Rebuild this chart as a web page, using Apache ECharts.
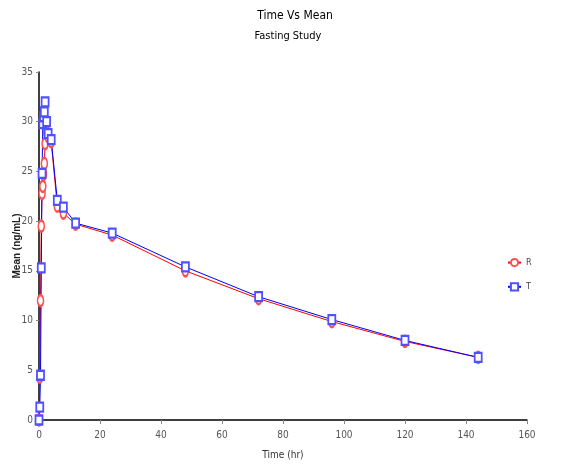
<!DOCTYPE html>
<html>
<head>
<meta charset="utf-8">
<script src="https://cdn.jsdelivr.net/npm/echarts@6/dist/echarts.min.js"></script>
<style>
html,body{margin:0;padding:0;background:#fff;}
#c{width:568px;height:472px;}
</style>
</head>
<body>
<div id="c"></div>
<script>
var times = [0, 0.25, 0.5, 0.75, 1, 1.25, 1.5, 1.75, 2, 2.5, 3, 4, 6, 8, 12, 24, 48, 72, 96, 120, 144];
var meanR = [0, 4.3, 12.0, 19.5, 22.8, 23.5, 24.7, 25.8, 27.8, 29.0, 28.5, 28.0, 21.5, 20.8, 19.7, 18.6, 15.0, 12.2, 9.9, 7.9, 6.3];
var meanT = [0, 1.3, 4.5, 15.3, 24.8, 29.8, 30.5, 31.0, 32.0, 30.0, 28.8, 28.2, 22.1, 21.4, 19.8, 18.8, 15.4, 12.4, 10.1, 8.0, 6.3];
var xTicks = [0, 20, 40, 60, 80, 100, 120, 140, 160];
var yTicks = [0, 5, 10, 15, 20, 25, 30, 35];

function pairs(ys){ return times.map(function(t,i){ return [t, ys[i]]; }); }

var narrow = "'DejaVu Sans Condensed', 'Liberation Sans Narrow', 'Liberation Sans', sans-serif";
var chart = echarts.init(document.getElementById('c'), null, {renderer:'canvas'});
chart.setOption({
  animation: false,
  backgroundColor: '#fff',
  title: [
    {text: 'Time Vs Mean', left: 290, top: 5, textAlign: 'center',
     textStyle: {fontFamily: narrow, fontSize: 12, fontWeight: 'normal', color: '#000'}},
    {text: 'Fasting Study', left: 283, top: 26, textAlign: 'center',
     textStyle: {fontFamily: narrow, fontSize: 11, fontWeight: 'normal', color: '#000'}}
  ],
  legend: {
    orient: 'vertical', left: 502, top: 253, itemGap: 15,
    itemWidth: 13, itemHeight: 9,
    itemStyle: {borderWidth: 1},
    textStyle: {fontFamily: narrow, fontSize: 9, color: '#444'},
    data: ['R', 'T']
  },
  grid: {left: 39, right: 41, top: 72, bottom: 52, outerBoundsMode: 'none', containLabel: false},
  xAxis: {
    type: 'value', min: 0, max: 160, interval: 20,
    name: 'Time (hr)', nameLocation: 'middle', nameGap: 30, nameMoveOverlap: false,
    nameTextStyle: {fontFamily: narrow, fontSize: 10, color: '#333'},
    axisLine: {lineStyle: {color: '#000', width: 1.5}},
    axisTick: {show: true, length: 4, lineStyle: {color: '#888'}},
    axisLabel: {fontFamily: narrow, fontSize: 10, color: '#555', margin: 10,
      formatter: function(v){ return xTicks.indexOf(v) >= 0 ? String(v) : ''; }},
    splitLine: {show: false}
  },
  yAxis: {
    type: 'value', min: 0, max: 35, interval: 5,
    name: 'Mean (ng/mL)', nameLocation: 'middle', nameGap: 17, nameMoveOverlap: false,
    nameTextStyle: {fontFamily: "'Liberation Sans', Arial, sans-serif", fontSize: 10, fontWeight: 'bold', color: '#222'},
    axisLine: {show: true, lineStyle: {color: '#000', width: 1.5}},
    axisTick: {show: true, length: 3, lineStyle: {color: '#888'}},
    axisLabel: {fontFamily: narrow, fontSize: 10, color: '#555', margin: 6,
      formatter: function(v){ return yTicks.indexOf(v) >= 0 ? String(v) : ''; }},
    splitLine: {show: false}
  },
  series: [
    {name: 'R', type: 'line', data: pairs(meanR), symbol: 'emptyCircle', symbolSize: [6, 11],
     lineStyle: {color: '#ff0000', width: 1}, itemStyle: {color: '#ff5050', borderWidth: 1}},
    {name: 'T', type: 'line', data: pairs(meanT), symbol: 'emptyRect', symbolSize: [7, 9],
     lineStyle: {color: '#0000ff', width: 1}, itemStyle: {color: '#5050ff', borderWidth: 1}}
  ]
});
</script>
</body>
</html>
